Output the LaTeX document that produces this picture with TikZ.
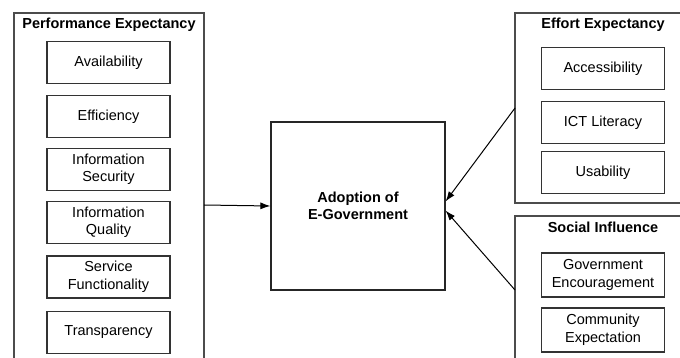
\documentclass[tikz,border=0pt]{standalone}
\usepackage{fontspec}
\setmainfont{Liberation Sans}
\usetikzlibrary{arrows.meta}
\begin{document}
\begin{tikzpicture}[x=1pt,y=-1pt,
  group/.style={draw=black!70,line width=1.1pt},
  item/.style={draw=black!80,line width=1.1pt,minimum width=123pt,minimum height=42pt,
    inner sep=0pt,align=center,font=\fontsize{14.5}{17.5}\selectfont},
  head/.style={inner sep=0pt,font=\bfseries\fontsize{14.5}{17.5}\selectfont},
  link/.style={line width=1pt,-{Latex[length=10pt,width=7pt]}}]
  \useasboundingbox (0,0) rectangle (680,358);
  \clip (0,0) rectangle (680,358);
  % gruppi (tagliati dal bordo)
  \draw[group] (14,13) rectangle (204,375);
  \draw[group] (515,13) rectangle (690,203);
  \draw[group] (515,216) rectangle (690,375);

  \node[head] (pehead) at (109,25)  {Performance Expectancy};
  \node[head] (eehead) at (603,25)  {Effort Expectancy};
  \node[head] (sihead) at (603,227) {Social Influence};

  % fattori a sinistra
  \node[item] (avail)  at (108.5,62.5)  {Availability};
  \node[item] (effic)  at (108.5,116.5) {Efficiency};
  \node[item] (infsec) at (108.5,169.5) {Information\\Security};
  \node[item] (infqua) at (108.5,222.5) {Information\\Quality};
  \node[item] (servfn) at (108.5,277)   {Service\\Functionality};
  \node[item] (transp) at (108.5,332.5) {Transparency};

  % fattori a destra
  \node[item] (access) at (603,68.5)  {Accessibility};
  \node[item] (ictlit) at (603,122.5) {ICT Literacy};
  \node[item] (usab)   at (603,172.5) {Usability};
  \node[item,minimum height=44pt] (govenc) at (603,275) {Government\\Encouragement};
  \node[item,minimum height=44pt] (comexp) at (603,330) {Community\\Expectation};

  \node[draw=black!85,line width=1.2pt,minimum width=174pt,minimum height=168pt,
    align=center,font=\bfseries\fontsize{14.5}{17.5}\selectfont] (adopt) at (358,206)
    {Adoption of\\E-Government};

  \coordinate (peout) at (204,205);
  \coordinate (eeout) at (515,108);
  \coordinate (siout) at (515,290);
  \draw[link] (peout) -- (adopt.west);
  \draw[link] (eeout) -- (adopt.3);
  \draw[link] (siout) -- (adopt.-3);
\end{tikzpicture}
\end{document}
